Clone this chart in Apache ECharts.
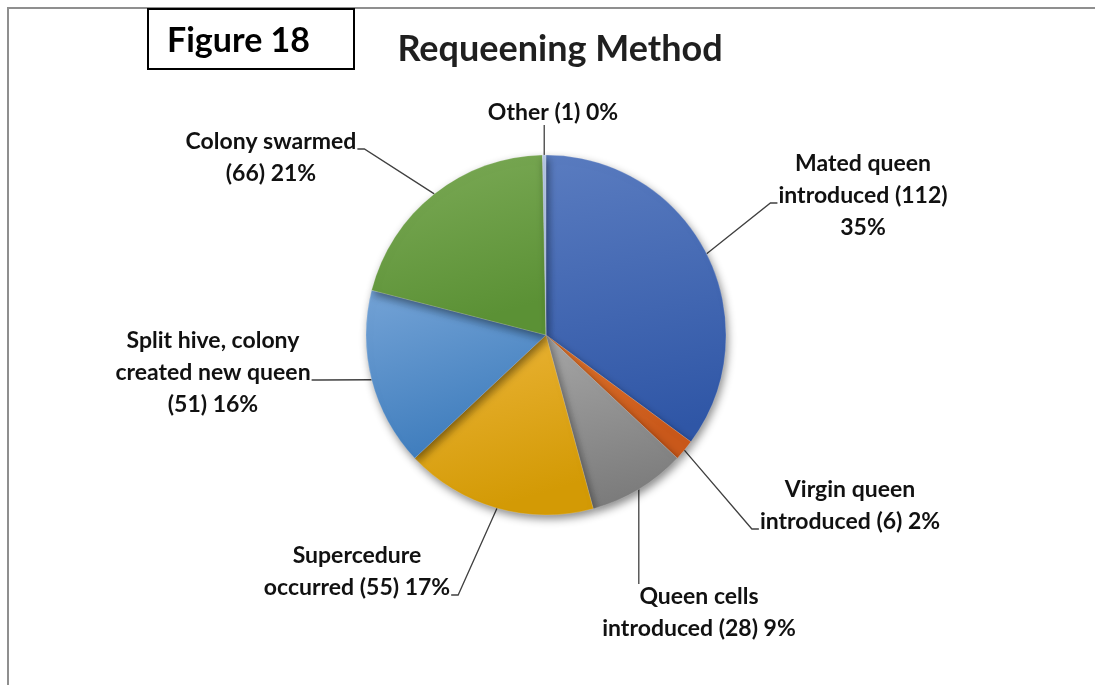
<!DOCTYPE html>
<html>
<head>
<meta charset="utf-8">
<script src="https://cdn.jsdelivr.net/npm/echarts@6/dist/echarts.min.js"></script>
<style>
  body { margin: 0; background: #fff; }
  #frame {
    position: absolute; left: 7px; top: 7px; width: 1100px; height: 690px;
    border-top: 2px solid #8f8f8f; border-left: 2px solid #8f8f8f;
  }
  #chart { position: absolute; left: 0; top: 0; width: 1095px; height: 685px; }
</style>
</head>
<body>
<div id="frame"></div>
<div id="chart"></div>
<script>
// 类别名称（换行与原图一致）
const categories = [
  'Mated queen\nintroduced',
  'Virgin queen\nintroduced',
  'Queen cells\nintroduced',
  'Supercedure\noccurred',
  'Split hive, colony\ncreated new queen',
  'Colony swarmed',
  'Other'
];
// 数量
const counts = [112, 6, 28, 55, 51, 66, 1];
// 数量后面的分隔符（空格或换行）
const countSeps = [' ', ' ', ' ', ' ', '\n', '\n', ' '];
const pctSeps = ['\n', ' ', ' ', ' ', ' ', ' ', ' '];

// 每块的颜色 [浅, 深]
const sliceColors = [
  ['#5a7cc0', '#2f56a6'],
  ['#e0762e', '#c9581a'],
  ['#a6a6a6', '#7b7b7b'],
  ['#ecb53a', '#d39a05'],
  ['#74a3d6', '#3f7dbd'],
  ['#7dab58', '#5b9135'],
  ['#b5c6e3', '#98aed6']
];

// 标签中心位置
const labelPos = [
  [863, 196], [850, 506], [699, 613], [357, 572], [213, 373], [271, 158], [553, 113]
];
// 引导线接到标签的哪一边、第几行
const lineAttach = [
  ['left', 1], ['left', 1], ['top', 0], ['right', 1], ['right', 1], ['right', 0], ['bottom', 0]
];
const LINE_H = 32;

let myChart = echarts.init(document.getElementById('chart'));

let option = {
  animation: false,
  title: {
    text: 'Requeening Method',
    left: 555,
    top: 26,
    textAlign: 'center',
    textStyle: {
      fontFamily: 'Lato',
      fontSize: 36,
      fontWeight: 'bold',
      color: '#1f1f1f'
    }
  },
  graphic: [
    {
      type: 'rect',
      shape: { x: 148, y: 9, width: 206, height: 60 },
      style: { fill: '#fff', stroke: '#000', lineWidth: 2 }
    },
    {
      type: 'text',
      x: 167,
      y: 41,
      style: {
        text: 'Figure 18',
        fontFamily: 'Lato',
        fontSize: 34,
        fontWeight: 'bold',
        fill: '#000',
        verticalAlign: 'middle'
      }
    }
  ],
  series: [{
    type: 'pie',
    center: [546, 335],
    radius: [0, 180],
    startAngle: 90,
    clockwise: true,
    percentPrecision: 0,
    avoidLabelOverlap: false,
    itemStyle: {
      borderColor: 'rgba(255,255,255,0.35)',
      borderWidth: 0.5,
      shadowBlur: 8,
      shadowOffsetX: 2,
      shadowOffsetY: 4,
      shadowColor: 'rgba(0,0,0,0.45)'
    },
    label: {
      show: true,
      position: 'outside',
      fontFamily: 'Lato',
      fontSize: 23,
      fontWeight: 'bold',
      lineHeight: LINE_H,
      color: '#111',
      align: 'center',
      formatter: function (p) {
        let i = p.dataIndex;
        return p.name + countSeps[i] + '(' + p.value + ')' + pctSeps[i] + p.percent + '%';
      }
    },
    labelLine: {
      show: true,
      length: 20,
      length2: 8,
      lineStyle: { color: '#404040', width: 1.3 }
    },
    labelLayout: function (params) {
      let i = params.dataIndex;
      let pos = labelPos[i];
      let w = params.labelRect.width;
      let h = params.labelRect.height;
      let res = { x: pos[0], y: pos[1], align: 'center', verticalAlign: 'middle' };
      let pts = params.labelLinePoints;
      if (pts && pts.length) {
        let start = pts[0];
        let side = lineAttach[i][0];
        let top = pos[1] - h / 2;
        let ly = top + LINE_H * (lineAttach[i][1] + 0.5) + 7;
        let end, mid;
        if (side === 'left') {
          end = [pos[0] - w / 2 - 1, ly];
          mid = [end[0] - 7, ly];
        } else if (side === 'right') {
          end = [pos[0] + w / 2 + 1, ly];
          mid = [end[0] + 7, ly];
        } else if (side === 'top') {
          end = [start[0], top + 3];
          mid = [start[0], (start[1] + end[1]) / 2];
        } else {
          end = [start[0], top + h - 4];
          mid = [start[0], (start[1] + end[1]) / 2];
        }
        res.labelLinePoints = [start, mid, end];
      }
      return res;
    },
    emphasis: { disabled: true },
    data: categories.map((name, i) => ({
      name: name,
      value: counts[i],
      itemStyle: {
        color: new echarts.graphic.LinearGradient(0, 0, 0.3, 1, [
          { offset: 0, color: sliceColors[i][0] },
          { offset: 1, color: sliceColors[i][1] }
        ])
      }
    }))
  }]
};

myChart.setOption(option);

window.onresize = () => {
  myChart.resize();
};
</script>
</body>
</html>
